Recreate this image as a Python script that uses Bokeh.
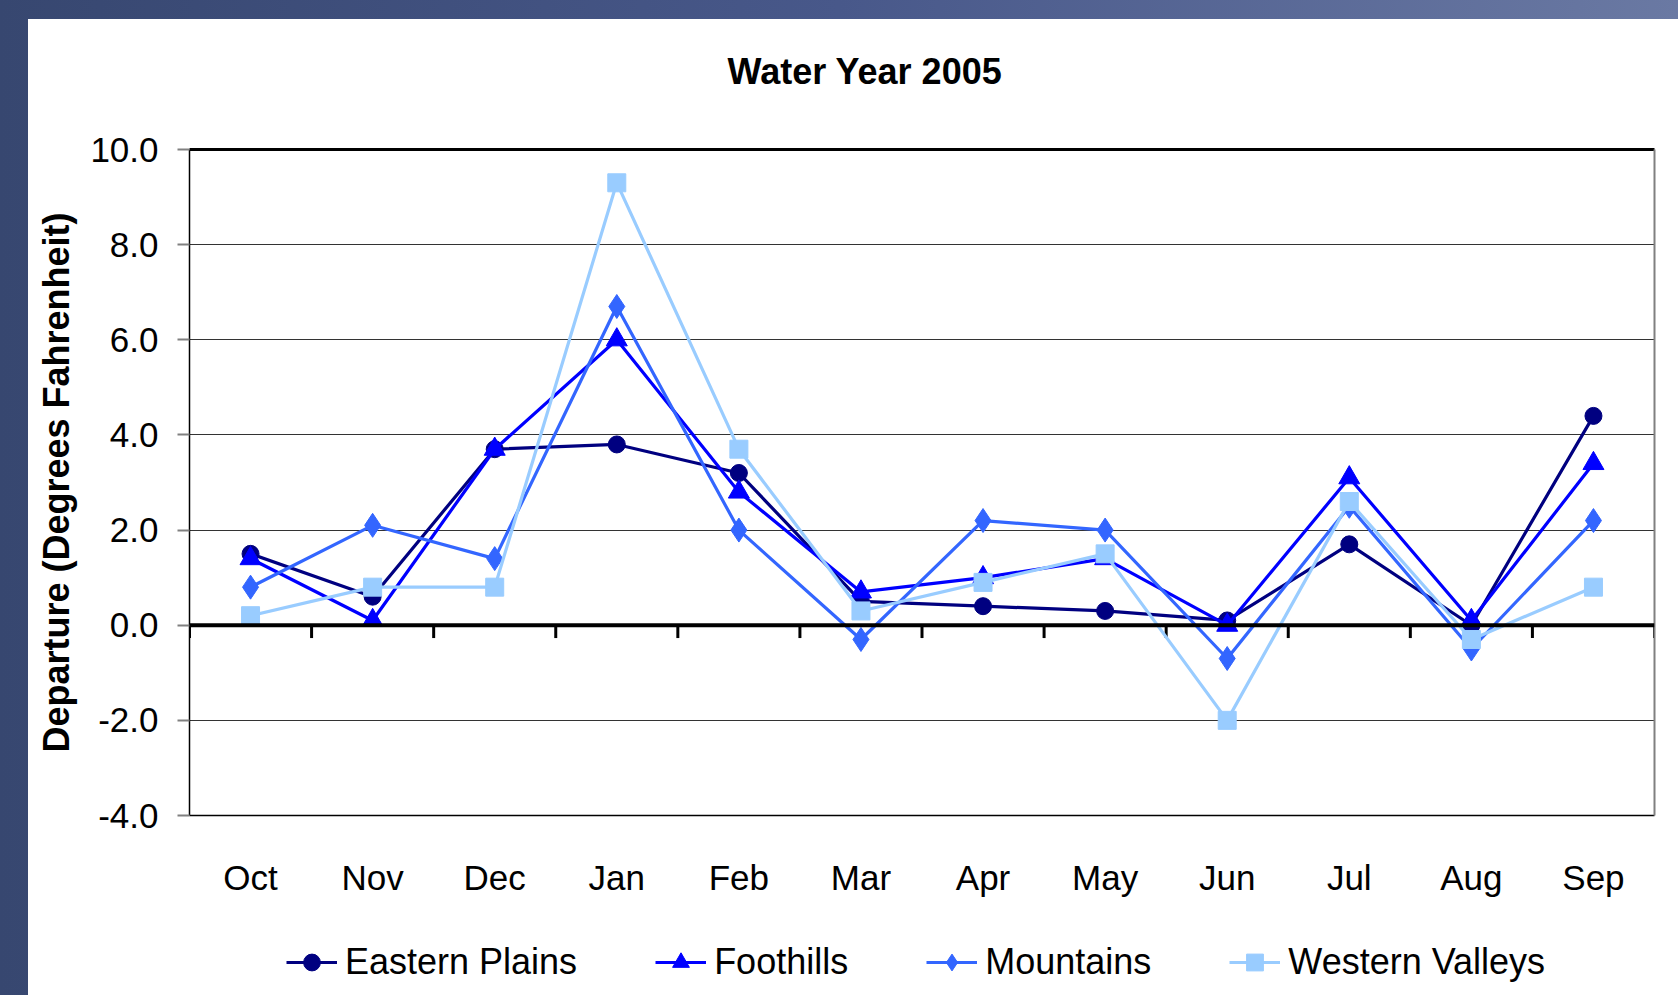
from bokeh.plotting import figure
from bokeh.models import (ColumnDataSource, FixedTicker, NumeralTickFormatter, Span,
                          Legend, LegendItem, LinearAxis, Range1d)
from bokeh.layouts import column
from bokeh.embed import file_html
from bokeh.resources import INLINE

# ---------------- data ----------------
months = ["Oct", "Nov", "Dec", "Jan", "Feb", "Mar", "Apr", "May", "Jun", "Jul", "Aug", "Sep"]
eastern_plains = [1.5, 0.6, 3.7, 3.8, 3.2, 0.5, 0.4, 0.3, 0.1, 1.7, 0.0, 4.4]
foothills = [1.4, 0.1, 3.7, 6.0, 2.8, 0.7, 1.0, 1.4, 0.0, 3.1, 0.1, 3.4]
mountains = [0.8, 2.1, 1.4, 6.7, 2.0, -0.3, 2.2, 2.0, -0.7, 2.5, -0.5, 2.2]
western_valleys = [0.2, 0.8, 0.8, 9.3, 3.7, 0.3, 0.9, 1.5, -2.0, 2.6, -0.3, 0.8]
y_ticks = [-4, -2, 0, 2, 4, 6, 8, 10]
series_names = ["Eastern Plains", "Foothills", "Mountains", "Western Valleys"]
chart_title = "Water Year 2005"

FONT = "Liberation Sans"
x_idx = list(range(len(months)))

# ---------------- title strip ----------------
p_top = figure(width=1650, height=100, output_backend="svg", toolbar_location=None,
               x_range=Range1d(0, 1), y_range=Range1d(0, 1),
               min_border_top=85, min_border_left=0, min_border_right=0, min_border_bottom=0,
               border_fill_color="white", background_fill_color="white", outline_line_color=None)
p_top.axis.visible = False
p_top.grid.visible = False
p_top.title.text = chart_title
p_top.title.text_font = FONT
p_top.title.text_font_size = "36px"
p_top.title.text_font_style = "bold"
p_top.title.text_color = "black"
p_top.title.align = "left"
p_top.title.offset = 538
p_top.title.standoff = 25

# ---------------- main chart ----------------
p = figure(width=1650, height=808, output_backend="svg", toolbar_location=None,
           x_range=Range1d(-0.5, len(months) - 0.5), y_range=Range1d(y_ticks[0], y_ticks[-1]),
           min_border_left=161, min_border_right=24, min_border_top=30, min_border_bottom=112,
           border_fill_color="white", background_fill_color="white", outline_line_color=None)

# y axis
ya = p.yaxis[0]
ya.ticker = FixedTicker(ticks=y_ticks)
ya.formatter = NumeralTickFormatter(format="0.0")
ya.major_label_text_font = FONT
ya.major_label_text_font_size = "35px"
ya.major_label_text_color = "black"
ya.major_tick_out = 12
ya.major_tick_in = 0
ya.major_tick_line_color = "#808080"
ya.major_tick_line_width = 2
ya.minor_tick_line_color = None
ya.axis_line_color = "black"
ya.axis_line_width = 1.5
ya.major_label_standoff = 19
ya.axis_label = "Departure (Degrees Fahrenheit)"
ya.axis_label_text_font = FONT
ya.axis_label_text_font_size = "36px"
ya.axis_label_text_font_style = "bold"
ya.axis_label_text_color = "black"
ya.axis_label_standoff = 10

# x axis (labels low, at bottom of frame)
xa = p.xaxis[0]
xa.ticker = FixedTicker(ticks=x_idx)
xa.major_label_overrides = {i: m for i, m in zip(x_idx, months)}
xa.major_label_text_font = FONT
xa.major_label_text_font_size = "35px"
xa.major_label_text_color = "black"
xa.major_tick_line_color = None
xa.minor_tick_line_color = None
xa.major_tick_out = 0
xa.major_tick_in = 0
xa.axis_line_color = "black"
xa.axis_line_width = 1.5
xa.major_label_standoff = 42

# top / right borders
top_ax = LinearAxis(ticker=FixedTicker(ticks=[]), major_tick_line_color=None,
                    minor_tick_line_color=None, major_label_text_font_size="0px",
                    axis_line_color="black", axis_line_width=3)
p.add_layout(top_ax, "above")
right_ax = LinearAxis(ticker=FixedTicker(ticks=[]), major_tick_line_color=None,
                      minor_tick_line_color=None, major_label_text_font_size="0px",
                      axis_line_color="#808080", axis_line_width=2)
p.add_layout(right_ax, "right")

# grid
p.xgrid.visible = False
p.ygrid.ticker = FixedTicker(ticks=y_ticks)
p.ygrid.grid_line_color = "#333333"
p.ygrid.grid_line_width = 1

# zero line with category boundary ticks
p.add_layout(Span(location=0, dimension="width", line_color="black", line_width=4))
bounds = [i - 0.5 for i in range(len(months) + 1)]
p.segment(x0=bounds, x1=bounds, y0=[0] * len(bounds), y1=[-0.27] * len(bounds),
          line_color="black", line_width=3)

# series
src = ColumnDataSource(dict(x=x_idx, ep=eastern_plains, fh=foothills, mt=mountains, wv=western_valleys))
styles = [
    ("ep", "#000080", "circle", 17),
    ("fh", "#0000FF", "triangle", 21),
    ("mt", "#3366FF", "diamond", 24),
    ("wv", "#99CCFF", "square", 18),
]
for col, color, marker, size in styles:
    p.line("x", col, source=src, line_color=color, line_width=3.2)
    p.scatter("x", col, source=src, marker=marker, size=size,
              fill_color=color, line_color=color)

# ---------------- legend strip (same series styling; data lies outside its view) ----------------
p_leg = figure(width=1650, height=68, output_backend="svg", toolbar_location=None,
               x_range=Range1d(100, 101), y_range=Range1d(100, 101),
               min_border=0, border_fill_color="white", background_fill_color="white",
               outline_line_color=None)
p_leg.axis.visible = False
p_leg.grid.visible = False
items = []
for name, (col, color, marker, size) in zip(series_names, styles):
    ln = p_leg.line("x", col, source=src, line_color=color, line_width=3.2)
    sc = p_leg.scatter("x", col, source=src, marker=marker, size=size,
                       fill_color=color, line_color=color)
    items.append(LegendItem(label=name, renderers=[ln, sc]))

legend = Legend(items=items, orientation="horizontal", location=(97, 12),
                label_text_font=FONT, label_text_font_size="36px", label_text_color="black",
                glyph_width=51, glyph_height=42, label_standoff=8, spacing=78,
                padding=0, margin=0, border_line_color=None, background_fill_alpha=0)
p_leg.add_layout(legend, "center")

layout = column(p_top, p, p_leg, spacing=0,
                styles={"background": "linear-gradient(white, white) content-box, "
                                      "linear-gradient(90deg, #374770 0%, #48588a 50%, #6a79a3 100%) padding-box",
                        "padding": "19px 0px 0px 28px"})

open("out.html", "w").write(file_html(layout, INLINE))
